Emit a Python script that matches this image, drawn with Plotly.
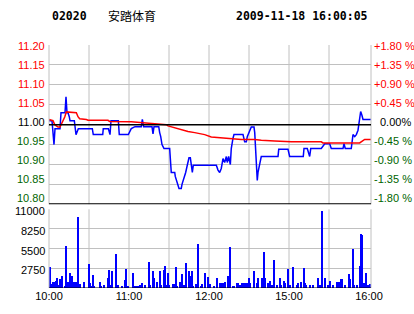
import plotly.graph_objects as go

# ---------------- data ----------------
title_code = "02020"
title_name = "安踏体育"
title_time = "2009-11-18 16:00:05"
prev_close = 11.00

# minutes since 10:00 (trading minutes, lunch break removed)
price_min = [0, 2.25, 3.75, 4.5, 8.25, 9.0, 12.0, 12.75, 13.5, 14.25, 15.2, 15.75, 19.0, 20.25, 22.0,
             32.5, 33.2, 40.3, 40.7, 44.5, 45.75, 46.5, 52.0, 52.7, 59.5, 61.7, 64.5, 69.2, 70.0, 71.0,
             77.25, 78.0, 78.75, 82.3, 83.0, 83.8, 84.75, 86.25, 90.5, 91.0, 91.7, 94.3, 94.7, 97.5,
             99.2, 99.75, 101.25, 102.5, 103.5, 105.0, 106.0, 106.7, 107.5, 108.2, 125.5, 126.75, 128.0,
             129.2, 130.5, 131.75, 133.0, 133.7, 134.75, 136.0, 136.7, 138.0, 138.75, 145.5, 146.75,
             148.0, 148.7, 151.7, 153.75, 154.3, 155.5, 156.2, 156.75, 158.0, 159.2, 171.75, 172.3,
             179.25, 180.5, 190.7, 191.25, 193.7, 195.5, 196.3, 204.2, 206.8, 210.5, 211.7, 220.5,
             221.25, 222.2, 226.7, 228.0, 229.3, 230.5, 231.75, 233.0, 233.75, 234.75, 235.5, 241.5]
price_val = [11.01, 11.01, 10.95, 10.99, 10.99, 11.03, 11.03, 11.07, 11.03, 11.03, 11.02, 11.01, 11.01, 10.975, 10.99,
             10.99, 10.975, 10.975, 10.99, 10.99, 10.975, 11.01, 11.01, 10.975, 10.975, 10.99, 10.995, 10.995, 11.013, 10.995,
             10.995, 10.977, 10.995, 10.995, 10.98, 10.97, 10.95, 10.94, 10.94, 10.906, 10.88, 10.88, 10.87, 10.84,
             10.84, 10.85, 10.865, 10.88, 10.895, 10.917, 10.917, 10.90, 10.88, 10.898, 10.898, 10.886, 10.88,
             10.89, 10.915, 10.905, 10.92, 10.905, 10.92, 10.90, 10.94, 10.966, 10.975, 10.975, 10.957,
             10.957, 10.97, 10.994, 10.994, 10.98, 10.92, 10.86, 10.88, 10.902, 10.92, 10.92, 10.938,
             10.938, 10.92, 10.92, 10.94, 10.94, 10.92, 10.94, 10.94, 10.952, 10.952, 10.94, 10.94,
             10.952, 10.94, 10.94, 10.975, 10.97, 10.975, 10.986, 11.01, 11.033, 11.023, 11.013, 11.013]

avg_min = [0, 3.0, 4.3, 6.75, 8.25, 9.75, 11.8, 13.0, 20.5, 21.75, 23.0, 28.0, 29.25, 44.25, 45.5, 61.7,
           78.0, 88.0, 89.25, 94.3, 99.2, 104.25, 109.3, 116.75, 121.7, 129.2, 134.25, 144.2, 154.3,
           159.2, 169.3, 181.7, 204.2, 205.5, 233.0, 235.5, 236.75, 241.5]
avg_val = [11.013, 11.01, 11.00, 10.994, 10.994, 11.003, 11.019, 11.032, 11.03, 11.02, 11.015, 11.013, 11.011,
           11.011, 11.008, 11.007, 11.003, 11.00, 10.997, 10.992, 10.988, 10.983, 10.98, 10.975, 10.969,
           10.967, 10.965, 10.963, 10.963, 10.961, 10.959, 10.957, 10.957, 10.954, 10.954, 10.961, 10.963, 10.963]

vol_min = [0, 1, 2, 3, 4, 5, 6, 7, 8, 9, 10, 12, 13, 14, 16, 17, 19, 20, 21, 22, 23, 26, 30, 31, 32, 33, 34,
           38, 39, 41, 44, 45, 46, 47, 50, 51, 52, 55, 57, 58, 59, 63, 64, 65, 67, 68, 70, 72, 75, 76, 78,
           79, 81, 83, 84, 86, 87, 88, 89, 90, 93, 94, 95, 96, 98, 100, 101, 102, 103, 105, 106, 107, 108,
           110, 112, 114, 115, 117, 119, 120, 121, 124, 126, 128, 129, 130, 131, 132, 134, 136, 138, 139,
           141, 142, 143, 145, 146, 148, 149, 150, 151, 154, 156, 157, 160, 161, 162, 164, 166, 167, 169,
           171, 173, 174, 176, 177, 179, 180, 181, 183, 186, 187, 189, 191, 192, 193, 196, 198, 202, 203,
           205, 207, 209, 211, 213, 216, 217, 218, 219, 220, 222, 225, 226, 228, 229, 231, 233, 234, 235,
           236, 238, 239, 240, 241]
vol_val = [2870, 2870, 460, 780, 780, 900, 1290, 320, 1150, 1150, 1620, 300, 5880, 780, 2090, 1620, 780, 780,
           300, 9830, 500, 800, 3380, 600, 300, 1760, 300, 800, 300, 400, 1290, 2410, 400, 2320, 4770, 300,
           400, 300, 1020, 2550, 300, 1990, 300, 300, 300, 400, 600, 400, 3660, 400, 2270, 1390, 800, 2270,
           400, 2410, 3100, 400, 2040, 400, 500, 500, 2830, 300, 800, 1850, 400, 300, 3520, 2270, 1620, 2270,
           300, 500, 6170, 300, 500, 1990, 1530, 400, 500, 300, 1390, 600, 600, 600, 600, 800, 1670, 5700,
           300, 300, 600, 600, 400, 600, 600, 600, 600, 1390, 600, 2320, 600, 1390, 1390, 4960, 1390, 600,
           1000, 400, 3940, 400, 1390, 400, 1000, 600, 2550, 400, 400, 2920, 400, 600, 800, 2780, 600, 400,
           400, 400, 1300, 400, 10760, 1300, 400, 1000, 400, 800, 800, 800, 1150, 1150, 400, 1850, 1150,
           5470, 400, 400, 3100, 7560, 7320, 600, 1990, 400, 400, 500]

price_ticks = [11.20, 11.15, 11.10, 11.05, 11.00, 10.95, 10.90, 10.85, 10.80]
price_labels = ["11.20", "11.15", "11.10", "11.05", "11.00", "10.95", "10.90", "10.85", "10.80"]
pct_labels = ["+1.80 %", "+1.35 %", "+0.90 %", "+0.45 %", "0.00%", "-0.45 %", "-0.90 %", "-1.35 %", "-1.80 %"]
vol_ticks = [11000, 8250, 5500, 2750]
vol_labels = ["11000", "8250", "5500", "2750"]
time_ticks = [0, 60, 120, 180, 240]
time_labels = ["10:00", "11:00", "12:00", "15:00", "16:00"]
grid_minutes = [30, 60, 90, 120, 150, 180, 210]

# ---------------- styling ----------------
W, H = 414, 314
ML, MR, MT, MB = 49, 43, 45, 26
PW, PH = W - ML - MR, H - MT - MB
RED, GREEN, BLUE, GRID = "#FF0000", "#006400", "#0000FF", "#C0C0C0"
SANS = "Liberation Sans, Arial, sans-serif"
MONO_B = "DejaVu Sans Mono, monospace"
XMAX = 241.5

fig = go.Figure()
fig.add_trace(go.Bar(x=vol_min, y=vol_val, xaxis="x", yaxis="y2", width=0.75,
                     marker=dict(color=BLUE, line=dict(width=0)), hoverinfo="skip"))
fig.add_trace(go.Scatter(x=price_min, y=price_val, xaxis="x2", yaxis="y", mode="lines",
                         line=dict(color=BLUE, width=1.5), hoverinfo="skip"))
fig.add_trace(go.Scatter(x=avg_min, y=avg_val, xaxis="x2", yaxis="y", mode="lines",
                         line=dict(color=RED, width=1.5), hoverinfo="skip"))

vol_top = 0.3239
price_bottom = 0.3444

shapes = []
for m in grid_minutes:
    for yr in ("y domain", "y2 domain"):
        shapes.append(dict(type="line", xref="x", yref=yr, x0=m, x1=m, y0=0, y1=1,
                           line=dict(color=GRID, width=1), layer="below"))
# borders
for xp in (0, 1):
    shapes.append(dict(type="line", xref="paper", yref="paper", x0=xp, x1=xp, y0=price_bottom, y1=1,
                       line=dict(color=GRID, width=1)))
    shapes.append(dict(type="line", xref="paper", yref="paper", x0=xp, x1=xp, y0=0, y1=vol_top,
                       line=dict(color=GRID, width=1)))
shapes.append(dict(type="line", xref="paper", yref="y", x0=0, x1=1, y0=prev_close, y1=prev_close,
                   line=dict(color="black", width=1.5)))
shapes.append(dict(type="line", xref="paper", yref="y", x0=0, x1=1, y0=price_ticks[-1], y1=price_ticks[-1],
                   line=dict(color="black", width=2)))
shapes.append(dict(type="line", xref="paper", yref="y2", x0=0, x1=1, y0=0, y1=0,
                   line=dict(color="black", width=1)))

ann = []
for k, (p, lab, pl) in enumerate(zip(price_ticks, price_labels, pct_labels)):
    col = RED if p > prev_close + 1e-9 else ("black" if abs(p - prev_close) < 1e-9 else GREEN)
    ys = -1 + 0.9 * k
    ann.append(dict(x=0, xref="paper", y=p, yref="y", text=lab, showarrow=False, xanchor="right",
                    yanchor="middle", xshift=-2, yshift=ys, font=dict(family=SANS, size=11, color=col)))
    ann.append(dict(x=1, xref="paper", y=p, yref="y", text=pl, showarrow=False, xanchor="left",
                    yanchor="middle", xshift=(1 if pl[0] in "+-" else 7), yshift=ys,
                    font=dict(family=SANS, size=11, color=col)))
for v, lab in zip(vol_ticks, vol_labels):
    ann.append(dict(x=0, xref="paper", y=v, yref="y2", text=lab, showarrow=False, xanchor="right",
                    yanchor="middle", xshift=-2, yshift=-2, font=dict(family=SANS, size=11, color="black")))

ty = (H - MB - 16) / PH
ann.append(dict(x=(50 - ML) / PW, xref="paper", y=ty, yref="paper", text="<b>" + title_code + "</b>",
                showarrow=False, xanchor="left", yanchor="middle",
                font=dict(family=MONO_B, size=11.5, color="black")))
ann.append(dict(x=(106 - ML) / PW, xref="paper", y=ty, yref="paper", text=title_name,
                showarrow=False, xanchor="left", yanchor="middle",
                font=dict(family="Noto Sans CJK SC", size=12, color="black")))
ann.append(dict(x=(370 - ML) / PW, xref="paper", y=ty, yref="paper", text="<b>" + title_time + "</b>",
                showarrow=False, xanchor="right", yanchor="middle",
                font=dict(family=MONO_B, size=11.5, color="black")))

fig.update_layout(
    width=W, height=H, margin=dict(l=ML, r=MR, t=MT, b=MB, pad=0),
    paper_bgcolor="white", plot_bgcolor="white", showlegend=False, bargap=0,
    xaxis=dict(domain=[0, 1], anchor="y2", range=[0, XMAX], tickvals=time_ticks, ticktext=time_labels,
               showgrid=False, zeroline=False, ticks="", showline=False,
               tickfont=dict(family=SANS, size=11, color="black")),
    xaxis2=dict(domain=[0, 1], anchor="y", range=[0, XMAX], matches="x", showticklabels=False,
                showgrid=False, zeroline=False, ticks=""),
    yaxis=dict(domain=[price_bottom, 1], range=[price_ticks[-1], price_ticks[0]], tickvals=price_ticks,
               showticklabels=False, showgrid=True, gridcolor=GRID, gridwidth=1, zeroline=False, ticks=""),
    yaxis2=dict(domain=[0, vol_top], range=[0, vol_ticks[0]], tickvals=vol_ticks, showticklabels=False,
                showgrid=True, gridcolor=GRID, gridwidth=1, zeroline=False, ticks=""),
    shapes=shapes, annotations=ann,
)

fig.write_html("out.html")
